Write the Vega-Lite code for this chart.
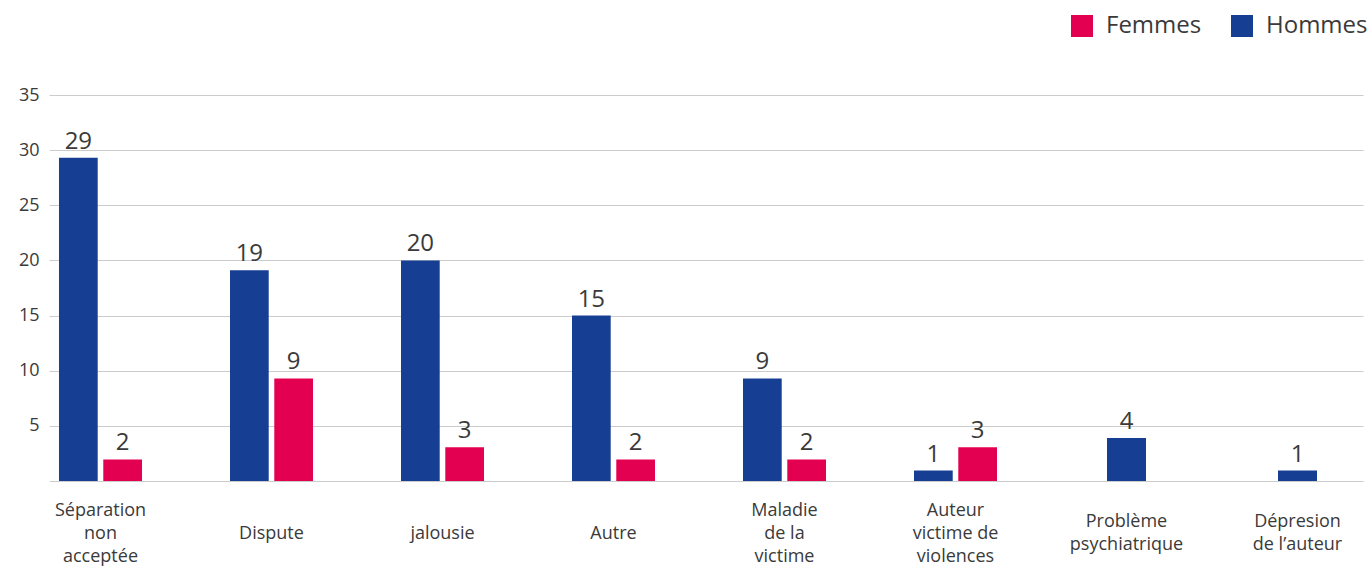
{
  "$schema": "https://vega.github.io/schema/vega-lite/v6.json",
  "width": 1314,
  "height": 386,
  "autosize": "none",
  "padding": {"left": 49, "top": 95, "right": 8, "bottom": 87},
  "background": "white",
  "config": {"view": {"stroke": null}, "font": "Open Sans"},
  "data": {
    "values": [
      {"cat": "Séparation non acceptée", "sexe": "Hommes", "v": 29.3},
      {"cat": "Séparation non acceptée", "sexe": "Femmes", "v": 1.95},
      {"cat": "Dispute", "sexe": "Hommes", "v": 19.1},
      {"cat": "Dispute", "sexe": "Femmes", "v": 9.3},
      {"cat": "jalousie", "sexe": "Hommes", "v": 20},
      {"cat": "jalousie", "sexe": "Femmes", "v": 3.05},
      {"cat": "Autre", "sexe": "Hommes", "v": 15},
      {"cat": "Autre", "sexe": "Femmes", "v": 1.95},
      {"cat": "Maladie de la victime", "sexe": "Hommes", "v": 9.3},
      {"cat": "Maladie de la victime", "sexe": "Femmes", "v": 1.95},
      {"cat": "Auteur victime de violences", "sexe": "Hommes", "v": 0.95},
      {"cat": "Auteur victime de violences", "sexe": "Femmes", "v": 3.05},
      {"cat": "Problème psychiatrique", "sexe": "Hommes", "v": 3.9},
      {"cat": "Dépresion de l’auteur", "sexe": "Hommes", "v": 0.95}
    ]
  },
  "transform": [
    {"joinaggregate": [{"op": "count", "as": "n"}], "groupby": ["cat"]}
  ],
  "encoding": {
    "x": {
      "field": "cat",
      "type": "nominal",
      "title": null,
      "sort": ["Séparation non acceptée", "Dispute", "jalousie", "Autre", "Maladie de la victime", "Auteur victime de violences", "Problème psychiatrique", "Dépresion de l’auteur"],
      "scale": {"paddingInner": 0.5146, "paddingOuter": 0.0994, "align": 0.294},
      "axis": {
        "labelAngle": 0,
        "labelFontSize": 18,
        "labelColor": "#3a3a3a",
        "labelLineHeight": 23,
        "labelBaseline": {
          "condition": [
            {"test": "indexof(['Séparation non acceptée','Maladie de la victime','Auteur victime de violences'], datum.value) >= 0", "value": "line-bottom"},
            {"test": "indexof(['Problème psychiatrique','Dépresion de l’auteur'], datum.value) >= 0", "value": "middle"}
          ],
          "value": "line-top"
        },
        "labelPadding": 40,
        "labelLimit": 300,
        "domain": false,
        "ticks": false,
        "grid": false,
        "labelExpr": "datum.label == 'Séparation non acceptée' ? ['Séparation','non','acceptée'] : datum.label == 'Maladie de la victime' ? ['Maladie','de la','victime'] : datum.label == 'Auteur victime de violences' ? ['Auteur','victime de','violences'] : datum.label == 'Problème psychiatrique' ? ['Problème','psychiatrique'] : datum.label == 'Dépresion de l’auteur' ? ['Dépresion','de l’auteur'] : datum.label"
      }
    },
    "y": {
      "field": "v",
      "type": "quantitative",
      "title": null,
      "scale": {"domain": [0, 35], "nice": false},
      "axis": {
        "values": [0, 5, 10, 15, 20, 25, 30, 35],
        "labelExpr": "datum.value == 0 ? '' : datum.label",
        "labelFontSize": 18,
        "labelColor": "#3a3a3a",
        "labelPadding": 10,
        "domain": false,
        "ticks": false,
        "gridColor": "#cccccc",
        "gridWidth": 1
      }
    }
  },
  "layer": [
    {
      "transform": [{"filter": "datum.n == 2"}],
      "mark": {"type": "bar"},
      "encoding": {
        "xOffset": {"field": "sexe", "type": "nominal", "scale": {"domain": ["Hommes", "Femmes"], "paddingInner": 0.126, "paddingOuter": 0}},
        "color": {
          "field": "sexe",
          "type": "nominal",
          "scale": {"domain": ["Femmes", "Hommes"], "range": ["#e40050", "#163e93"]},
          "legend": {
            "title": null,
            "orient": "none",
            "legendX": 1021,
            "legendY": -81,
            "direction": "horizontal",
            "symbolType": "square",
            "symbolSize": 484,
            "symbolStrokeWidth": 0,
            "labelFontSize": 24,
            "labelColor": "#3a3a3a",
            "labelOffset": 12,
            "columnPadding": 28
          }
        }
      }
    },
    {
      "transform": [{"filter": "datum.n == 1"}],
      "mark": {"type": "bar", "width": 39},
      "encoding": {
        "color": {"field": "sexe", "type": "nominal", "scale": {"domain": ["Femmes", "Hommes"], "range": ["#e40050", "#163e93"]}}
      }
    },
    {
      "transform": [{"filter": "datum.n == 2"}],
      "mark": {"type": "text", "baseline": "alphabetic", "dy": -9, "fontSize": 24, "color": "#3a3a3a"},
      "encoding": {
        "xOffset": {"field": "sexe", "type": "nominal", "scale": {"domain": ["Hommes", "Femmes"], "paddingInner": 0.126, "paddingOuter": 0}},
        "text": {"field": "v", "type": "quantitative", "format": ".0f"}
      }
    },
    {
      "transform": [{"filter": "datum.n == 1"}],
      "mark": {"type": "text", "baseline": "alphabetic", "dy": -9, "fontSize": 24, "color": "#3a3a3a"},
      "encoding": {
        "text": {"field": "v", "type": "quantitative", "format": ".0f"}
      }
    }
  ]
}
